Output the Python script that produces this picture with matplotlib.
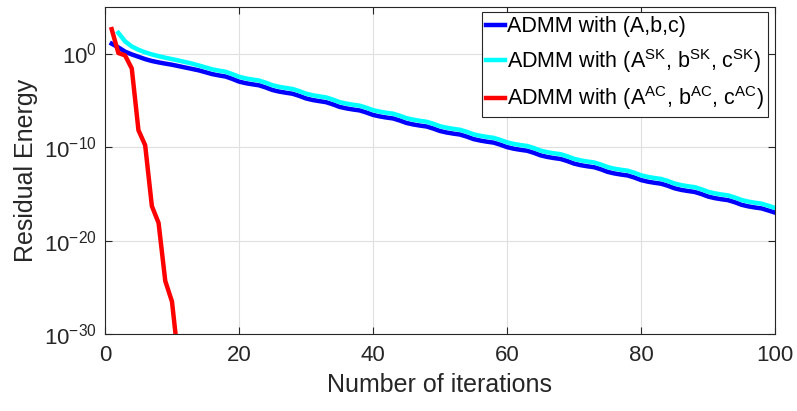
import numpy as np
import matplotlib
matplotlib.use("Agg")
import matplotlib.pyplot as plt

# residual energy per iteration, stored as log10 values
iters_abc = list(range(1, 101))
log_abc = [1.05, 0.65, 0.20, -0.10, -0.35, -0.60, -0.80, -0.95, -1.08, -1.20,
           -1.35, -1.50, -1.65, -1.80, -2.00, -2.20, -2.34, -2.46, -2.71, -3.00,
           -3.17, -3.29, -3.40, -3.63, -3.90, -4.07, -4.19, -4.30, -4.53, -4.80,
           -4.97, -5.09, -5.20, -5.43, -5.70, -5.86, -5.98, -6.08, -6.30, -6.56,
           -6.72, -6.84, -6.94, -7.16, -7.42, -7.58, -7.70, -7.80, -8.02, -8.28,
           -8.44, -8.56, -8.66, -8.88, -9.14, -9.30, -9.42, -9.52, -9.74, -10.00,
           -10.17, -10.29, -10.39, -10.61, -10.88, -11.05, -11.17, -11.27, -11.49, -11.76,
           -11.93, -12.05, -12.15, -12.37, -12.64, -12.81, -12.93, -13.03, -13.25, -13.52,
           -13.69, -13.81, -13.91, -14.13, -14.40, -14.57, -14.69, -14.79, -15.01, -15.28,
           -15.45, -15.57, -15.67, -15.89, -16.16, -16.33, -16.45, -16.55, -16.77, -17.00]

iters_sk = list(range(2, 101))
log_sk = [2.20, 1.30, 0.75, 0.40, 0.12, -0.10, -0.28, -0.45, -0.60,
          -0.75, -0.92, -1.08, -1.28, -1.48, -1.69, -1.83, -1.95, -2.20, -2.48,
          -2.66, -2.78, -2.89, -3.12, -3.39, -3.56, -3.68, -3.79, -4.02, -4.29,
          -4.46, -4.58, -4.69, -4.92, -5.19, -5.35, -5.47, -5.57, -5.79, -6.05,
          -6.21, -6.33, -6.43, -6.65, -6.91, -7.07, -7.19, -7.29, -7.51, -7.77,
          -7.93, -8.05, -8.15, -8.37, -8.63, -8.79, -8.91, -9.01, -9.23, -9.49,
          -9.66, -9.78, -9.88, -10.10, -10.37, -10.54, -10.66, -10.76, -10.98, -11.25,
          -11.42, -11.54, -11.64, -11.86, -12.13, -12.30, -12.42, -12.52, -12.74, -13.01,
          -13.18, -13.30, -13.40, -13.62, -13.89, -14.06, -14.18, -14.28, -14.50, -14.77,
          -14.94, -15.06, -15.16, -15.38, -15.65, -15.82, -15.94, -16.04, -16.26, -16.50]

iters_ac = list(range(1, 12))
log_ac = [2.60, 0.05, -0.20, -1.60, -8.20, -9.80, -16.30, -18.10, -24.30, -26.50, -33.00]

labels = ['ADMM with (A,b,c)',
          r'ADMM with (A$^{\mathrm{SK}}$, b$^{\mathrm{SK}}$, c$^{\mathrm{SK}}$)',
          r'ADMM with (A$^{\mathrm{AC}}$, b$^{\mathrm{AC}}$, c$^{\mathrm{AC}}$)']
ytick_vals = [1e-30, 1e-20, 1e-10, 1e0]
xtick_vals = [0, 20, 40, 60, 80, 100]

plt.rcParams['font.family'] = ['Liberation Sans', 'DejaVu Sans']
plt.rcParams['mathtext.fontset'] = 'custom'
plt.rcParams['mathtext.rm'] = 'Liberation Sans'
plt.rcParams['mathtext.it'] = 'Liberation Sans'
plt.rcParams['mathtext.default'] = 'regular'
plt.rcParams['axes.unicode_minus'] = False

dark = '#262626'
fig = plt.figure(figsize=(7.97, 4.11), dpi=100)
ax = fig.add_axes([0.1317, 0.1866, 0.9724 - 0.1317, 0.9837 - 0.1866])

ax.plot(iters_abc, np.power(10.0, log_abc), color='#0000ff', lw=3.2, label=labels[0])
ax.plot(iters_sk, np.power(10.0, log_sk), color='#00ffff', lw=3.2, label=labels[1])
ax.plot(iters_ac, np.power(10.0, log_ac), color='#ff0000', lw=3.2, label=labels[2])

ax.set_yscale('log')
ax.set_xlim(0, 100)
ax.set_ylim(1e-30, 1e5)
ax.set_xticks(xtick_vals)
ax.set_yticks(ytick_vals)
ax.minorticks_off()
ax.tick_params(direction='in', top=True, right=True, length=5, width=0.8,
               colors=dark, labelsize=16, pad=6)
ax.tick_params(axis='x', pad=8)
ax.grid(True, color='#dfdfdf', lw=0.8)
ax.set_axisbelow(True)
for s in ax.spines.values():
    s.set_color(dark)
    s.set_linewidth(0.8)

ax.set_xlabel('Number of iterations', fontsize=18, color=dark, labelpad=5)
ax.set_ylabel('Residual Energy', fontsize=18, color=dark, labelpad=4)

leg = ax.legend(loc='upper right', bbox_to_anchor=(0.9896, 0.9838), borderaxespad=0,
                fontsize=15.5, handlelength=0.85, handletextpad=0.1, borderpad=0.2,
                labelspacing=0.45, fancybox=False, framealpha=1, edgecolor=dark)
leg.get_frame().set_linewidth(0.8)

fig.savefig('out.png', dpi=100)
